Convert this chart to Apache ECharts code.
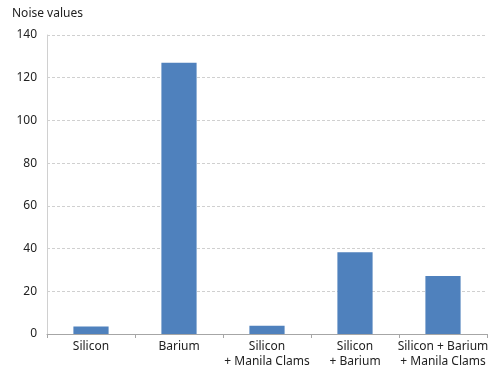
<!DOCTYPE html>
<html><head><meta charset="utf-8">
<script src="https://cdn.jsdelivr.net/npm/echarts@6/dist/echarts.min.js"></script>
<style>html,body{margin:0;padding:0;background:#fff}#c{width:491px;height:366px}</style>
</head><body><div id="c"></div>
<script>
const categories = ["Silicon", "Barium", "Silicon\n+ Manila Clams", "Silicon\n+ Barium", "Silicon + Barium\n+ Manila Clams"];
const noiseValues = [3.5, 127, 3.9, 38.3, 27.1];
const yTicks = {min: 0, max: 140, interval: 20};

const chart = echarts.init(document.getElementById('c'), null, {renderer: 'canvas'});
chart.setOption({
  animation: false,
  textStyle: {fontFamily: '"Noto Sans", sans-serif'},
  title: {text: 'Noise values', left: 7, top: 3, textStyle: {fontSize: 12, fontWeight: 'normal', color: '#222', fontFamily: '"Noto Sans", sans-serif'}},
  grid: {left: 47, right: 4, top: 35, bottom: 32, containLabel: false, outerBoundsMode: 'none'},
  xAxis: {
    type: 'category', data: categories,
    axisLine: {lineStyle: {color: '#a6a6a6'}},
    axisTick: {show: true, lineStyle: {color: '#a6a6a6'}, length: 4},
    axisLabel: {color: '#222', fontSize: 12, interval: 0, lineHeight: 15, margin: 5, hideOverlap: false}
  },
  yAxis: {
    type: 'value', min: yTicks.min, max: yTicks.max, interval: yTicks.interval,
    axisLine: {show: true, lineStyle: {color: '#d0d0d0'}},
    axisTick: {show: false},
    axisLabel: {color: '#222', fontSize: 12, margin: 10},
    splitLine: {lineStyle: {color: '#d0d0d0', type: [3, 2]}}
  },
  series: [{
    type: 'bar', data: noiseValues, barWidth: '40%',
    itemStyle: {color: '#4f81bd'}
  }]
});
</script></body></html>
